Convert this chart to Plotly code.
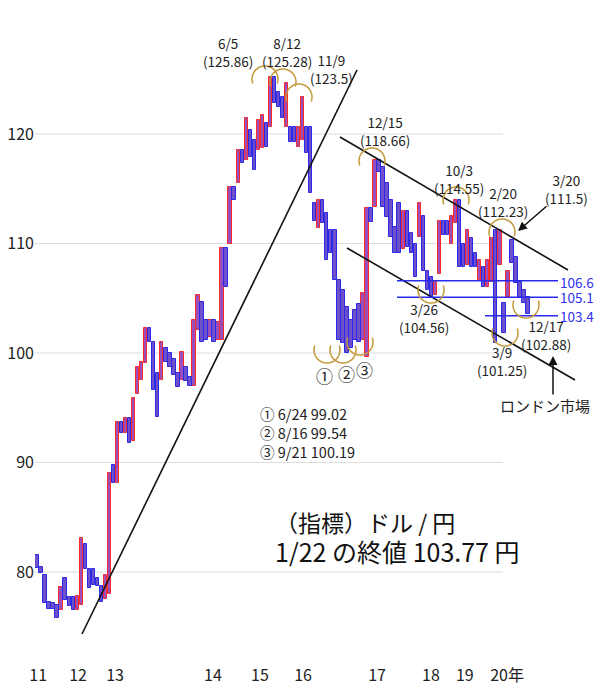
import plotly.graph_objects as go
import math

# ---- data (line-break style bars: open -> close) ----
bar_open = [81.6, 80.5, 79.7, 77.3, 77.2, 77.0, 76.5, 79.5, 77.7, 77.7,
            76.5, 77.0, 82.6, 80.3, 80.3, 79.5, 78.7, 77.5, 78.0, 89.8,
            88.1, 93.7, 92.7, 94.1, 92.0, 96.3, 97.5, 99.1, 102.3, 101.0,
            98.2, 97.5, 100.5, 100.0, 99.5, 98.2, 97.5, 98.7, 97.8, 97.0,
            102.1, 104.7, 103.0, 101.5, 103.0, 101.2, 101.2, 109.6, 110.0, 115.2,
            115.5, 118.5, 117.6, 120.4, 119.5, 118.5, 118.7, 121.0, 120.6, 125.2,
            123.8, 123.4, 120.6, 120.6, 120.6, 118.8, 119.5, 120.6, 120.6, 113.7,
            111.4, 114.0, 112.8, 111.2, 111.2, 106.7, 105.8, 104.2, 103.0, 103.9,
            104.5, 101.2, 99.6, 113.2, 113.3, 117.6, 117.0, 115.5, 114.0, 111.5,
            113.7, 109.5, 113.0, 111.0, 110.0, 110.6, 112.5, 107.5, 106.9, 105.3,
            107.2, 112.1, 112.1, 110.0, 111.9, 114.0, 110.0, 108.0, 110.5, 109.1,
            106.7, 107.9, 106.0, 106.5, 111.2, 108.0, 104.6, 105.1, 110.3, 108.8,
            106.5, 105.8, 105.1]
bar_close = [80.4, 79.9, 77.2, 76.6, 76.6, 75.8, 78.6, 77.4, 76.9, 76.5,
             77.8, 83.1, 80.3, 78.5, 78.8, 78.7, 77.3, 79.7, 89.0, 88.1,
             93.7, 92.7, 94.1, 91.8, 95.9, 98.7, 99.2, 102.3, 101.0, 96.6,
             94.2, 101.0, 99.2, 98.7, 98.0, 96.9, 100.1, 97.4, 97.0, 103.0,
             105.3, 101.0, 101.2, 103.0, 101.0, 102.8, 109.6, 106.0, 115.2, 114.0,
             118.5, 117.4, 121.5, 117.9, 116.7, 121.3, 121.7, 118.8, 125.2, 122.8,
             122.5, 121.5, 124.7, 119.3, 119.3, 120.6, 123.4, 118.3, 114.6, 112.1,
             114.0, 111.9, 108.5, 109.1, 106.7, 101.2, 100.9, 100.0, 100.5, 101.2,
             101.0, 105.5, 113.2, 112.0, 117.6, 116.5, 113.3, 112.4, 110.6, 109.1,
             109.1, 113.0, 109.7, 109.1, 106.9, 113.7, 107.5, 105.8, 105.1, 106.5,
             112.1, 110.8, 110.8, 112.5, 114.0, 107.9, 107.9, 111.2, 107.9, 107.9,
             108.5, 106.0, 108.5, 110.5, 100.9, 111.2, 101.8, 107.5, 108.2, 106.4,
             105.1, 104.6, 103.6]
bar_index = list(range(len(bar_open)))

year_pos = [0.3, 10.2, 19.4, 43.7, 55.4, 66.1, 84.5, 97.9, 106.3, 116.8]
year_labels = ["11", "12", "13", "14", "15", "16", "17", "18", "19", "20年"]
y_ticks = [80, 90, 100, 110, 120]

support_levels = [106.6, 105.1, 103.4]

# ---- layout geometry helpers ----
W, H = 600, 686
ML, MB = 35, 22
PW, PH = W - ML, H - MB
YR = [71.6, 132.24]
XR = [-0.5, 139.9]
FONT = "Noto Sans CJK JP, Noto Sans, sans-serif"

def px(x):
    return (x - ML) / PW

def py(y):
    return (PH - y) / PH

up_x, up_b, up_h, dn_x, dn_b, dn_h = [], [], [], [], [], []
for i, o, c in zip(bar_index, bar_open, bar_close):
    if c >= o:
        up_x.append(i); up_b.append(o); up_h.append(c - o)
    else:
        dn_x.append(i); dn_b.append(c); dn_h.append(o - c)

fig = go.Figure()
fig.add_trace(go.Bar(x=up_x, y=up_h, base=up_b, width=0.85,
                     marker=dict(color="#9a50bc", line=dict(color="#ff2a2a", width=1)),
                     showlegend=False, hoverinfo="skip"))
fig.add_trace(go.Bar(x=dn_x, y=dn_h, base=dn_b, width=0.85,
                     marker=dict(color="#7050c8", line=dict(color="#2a2aee", width=1)),
                     showlegend=False, hoverinfo="skip"))

shapes = []
# gridlines
for t in y_ticks:
    shapes.append(dict(type="line", xref="paper", yref="y", x0=0, x1=px(503), y0=t, y1=t,
                       line=dict(color="#dddddd", width=1), layer="below"))
# trend lines (pixel anchored)
for (x0, y0, x1, y1) in [(82, 634, 357, 70), (340, 137, 568, 270), (347, 248, 575, 380)]:
    shapes.append(dict(type="line", xref="paper", yref="paper", x0=px(x0), y0=py(y0),
                       x1=px(x1), y1=py(y1), line=dict(color="#111111", width=1.6)))
# support lines
for lv, xs in zip(support_levels, [397, 397, 485]):
    shapes.append(dict(type="line", xref="paper", yref="y", x0=px(xs), x1=px(558), y0=lv, y1=lv,
                       line=dict(color="#2a2aee", width=1.5)))
# arcs
def arc(cx, cy, r, up=True):
    pts = []
    for k in range(0, 41):
        th = math.radians(-20 + 220 * k / 40)
        x = cx + r * math.cos(th)
        y = cy - r * math.sin(th) if up else cy + r * math.sin(th)
        pts.append((px(x), py(y)))
    d = "M " + " L ".join(f"{a:.5f},{b:.5f}" for a, b in pts)
    return dict(type="path", xref="paper", yref="paper", path=d,
                line=dict(color="#c49a3c", width=1.5))

for cx, cy in [(265, 79), (283, 82), (299, 97), (372, 161), (456, 200), (502, 232)]:
    shapes.append(arc(cx, cy, 13, True))
for cx, cy in [(327, 350), (343, 350), (360, 342), (431, 290), (505, 333), (526, 305)]:
    shapes.append(arc(cx, cy, 13, False))

ann = []
def txt(x, y, s, size=14, color="#222222", xanchor="center", align="center"):
    ann.append(dict(x=px(x), y=py(y), xref="paper", yref="paper", text=s, showarrow=False,
                    xanchor=xanchor, yanchor="middle", align=align, borderpad=0,
                    font=dict(size=size, color=color, family=FONT)))

for (x, y, s) in [(228, 52, "6/5<br>(125.86)"), (287, 52, "8/12<br>(125.28)"),
                  (331, 69, "11/9<br>(123.5)"), (385, 131, "12/15<br>(118.66)"),
                  (459, 179, "10/3<br>(114.55)"), (503, 202, "2/20<br>(112.23)"),
                  (566, 189, "3/20<br>(111.5)"), (424, 318, "3/26<br>(104.56)"),
                  (502, 361, "3/9<br>(101.25)"), (546, 335, "12/17<br>(102.88)")]:
    txt(x, y, s, size=13.5)
txt(545, 405, "ロンドン市場", size=15)
for (x, y, s) in [(324, 376, "①"), (346, 373, "②"), (364, 369, "③")]:
    txt(x, y, s, size=17)
txt(259, 432, "① 6/24 99.02<br>② 8/16 99.54<br>③ 9/21 100.19", size=14.5, xanchor="left", align="left")
for lv, yy in zip(support_levels, [282, 297, 316]):
    txt(559, yy, f"{lv}", size=13.5, color="#3030f0", xanchor="left")
txt(274, 522, "（指標）ドル / 円", size=23, color="#111111", xanchor="left")
txt(274, 551, "1/22 の終値 103.77 円", size=25, color="#111111", xanchor="left")

# arrows
ann.append(dict(x=px(518), y=py(231), xref="paper", yref="paper", ax=30, ay=-26, text="",
                showarrow=True, arrowhead=2, arrowsize=1.2, arrowwidth=1.5, arrowcolor="#111111"))
ann.append(dict(x=px(553), y=py(356), xref="paper", yref="paper", ax=0, ay=40, text="",
                showarrow=True, arrowhead=2, arrowsize=1.2, arrowwidth=1.5, arrowcolor="#111111"))

fig.update_layout(
    width=W, height=H, margin=dict(l=ML, r=0, t=0, b=MB),
    paper_bgcolor="white", plot_bgcolor="white", barmode="overlay", bargap=0,
    shapes=shapes, annotations=ann, showlegend=False,
    font=dict(family=FONT, size=16, color="#222222"),
    xaxis=dict(range=XR, tickvals=year_pos, ticktext=year_labels, showgrid=False, zeroline=False,
               showline=False, ticks="", tickfont=dict(size=16, color="#222222")),
    yaxis=dict(range=YR, tickvals=y_ticks, showgrid=False, zeroline=False, showline=False,
               ticks="", tickfont=dict(size=16, color="#222222")),
)
fig.write_html("out.html", config={"displayModeBar": False},
               post_script="document.body.style.margin='0';document.body.style.overflow='hidden';")
